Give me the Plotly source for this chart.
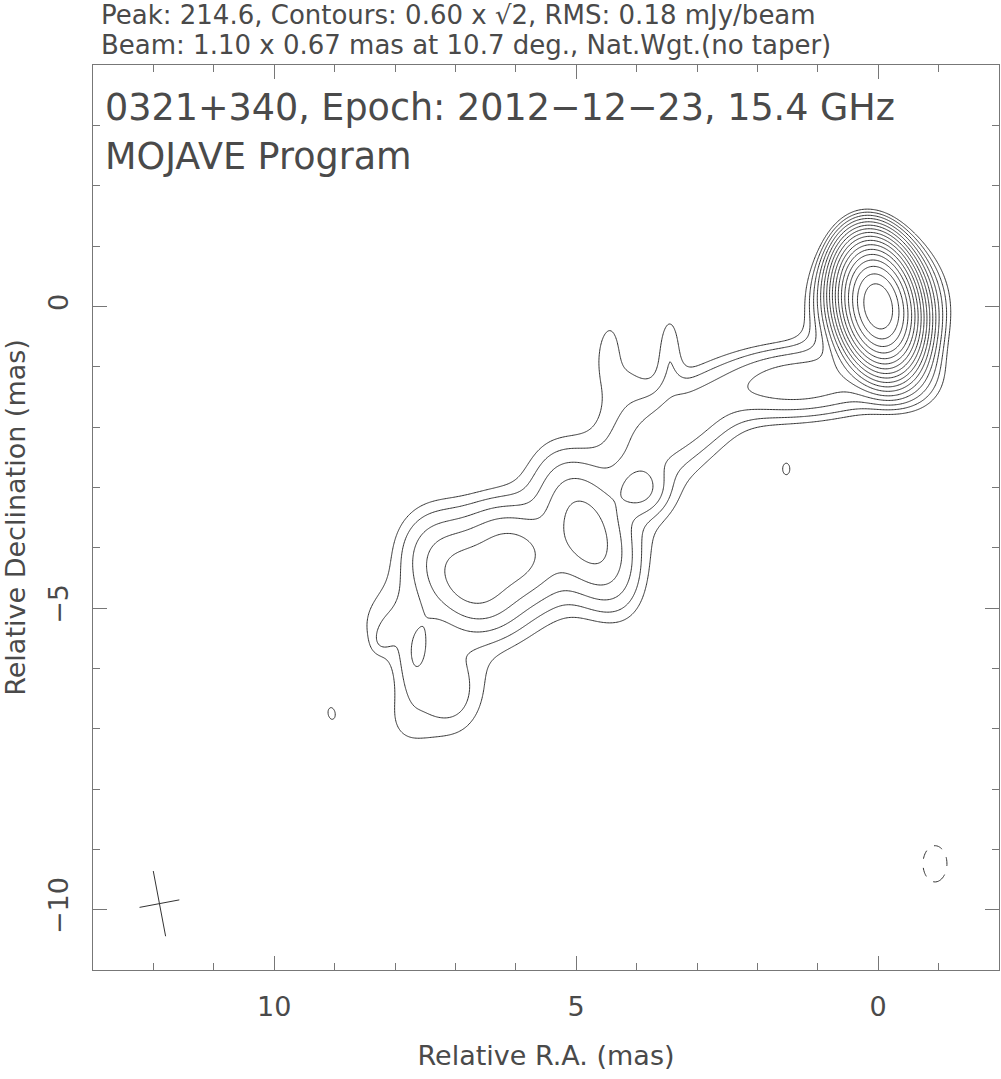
import numpy as np
import plotly.graph_objects as go

# ---------------- data: source model (Gaussian components, mJy/beam) ----------------
COMP_RA   = [0.00, 0.00, -0.45, 0.70, 1.45, 5.30, 3.15, 3.90, 4.30, 3.92, 4.78, 6.05, 6.75, 7.40, 8.10, 7.02, 7.80, 7.64, 8.15, 3.45, 4.47, 1.52, 9.05, -0.94]
COMP_DEC  = [0.00, 0.00, -1.00, -1.40, -1.18, -3.86, -1.85, -2.40, -1.20, -3.04, -3.80, -4.05, -4.60, -3.95, -5.25, -6.50, -6.95, -5.80, -5.45, -0.60, -0.60, -2.70, -6.75, -9.24]
COMP_PEAK = [205.0, 7.0, 0.9, 0.8, 1.5, 0.9, 1.0, 0.3, 0.45, 1.1, 2.0, 1.8, 1.9, 0.8, 0.5, 0.72, 0.42, 0.56, 0.38, 0.62, 0.45, 0.62, 0.65, -0.75]
COMP_MAJ  = [1.10, 1.35, 1.2, 2.4, 1.9, 5.5, 1.6, 1.2, 1.4, 0.65, 2.0, 1.3, 1.3, 1.4, 1.2, 1.4, 1.1, 1.1, 0.4, 1.2, 0.9, 0.35, 0.3, 1.06]
COMP_MIN  = [0.67, 1.25, 0.9, 0.9, 0.9, 2.3, 1.0, 1.0, 1.0, 0.65, 0.95, 1.0, 1.0, 1.2, 1.1, 1.0, 0.9, 0.45, 0.25, 0.38, 0.35, 0.22, 0.18, 0.7]
COMP_PA   = [10.7, 10.7, 30, 95, 95, 128, 120, 128, 0, 0, 23, 43, 43, 0, 0, 0, 0, 170, 150, 0, 355, 0, 10, 0]

CONTOUR_BASE = 0.60          # mJy/beam, lowest contour
CONTOUR_FACTOR = np.sqrt(2)  # contour step
N_LEVELS = 17

BEAM_MAJ, BEAM_MIN, BEAM_PA = 1.10, 0.67, 10.7
BEAM_RA, BEAM_DEC = 11.9, -9.9

X_RANGE = [13.0, -2.0]
Y_RANGE = [-11.0, 4.0]
X_TICKS = [10, 5, 0]
Y_TICKS = [-10, -5, 0]
Y_TICKTEXT = ["\u221210", "\u22125", "0"]

TITLE1 = "Peak: 214.6, Contours: 0.60 x \u221a2, RMS: 0.18 mJy/beam"
TITLE2 = "Beam: 1.10 x 0.67 mas at 10.7 deg., Nat.Wgt.(no taper)"
LABEL1 = "0321+340, Epoch: 2012\u221212\u221223, 15.4 GHz"
LABEL2 = "MOJAVE Program"

# ---------------- image ----------------
step = 0.025
xs = np.arange(-2.0, 13.0 + step / 2, step)
ys = np.arange(-11.0, 4.0 + step / 2, step)
X, Y = np.meshgrid(xs, ys)
I = np.zeros_like(X)
k = 4 * np.log(2)
for ra, de, p, fa, fb, pa in zip(COMP_RA, COMP_DEC, COMP_PEAK, COMP_MAJ, COMP_MIN, COMP_PA):
    t = np.deg2rad(pa)
    dx, dy = X - ra, Y - de
    a = dx * np.sin(t) + dy * np.cos(t)
    b = dx * np.cos(t) - dy * np.sin(t)
    I += p * np.exp(-k * (a ** 2 / fa ** 2 + b ** 2 / fb ** 2))

lg = np.log(CONTOUR_FACTOR)
zpos = np.clip(np.log(np.maximum(I, 1e-6) / CONTOUR_BASE) / lg, -6, None)
zneg = np.clip(np.log(np.maximum(-I, 1e-6) / CONTOUR_BASE) / lg, -6, None)

LINE = "#333333"
fig = go.Figure()
fig.add_trace(go.Contour(
    x=xs, y=ys, z=zpos, showscale=False, hoverinfo="skip",
    contours=dict(start=0, end=N_LEVELS - 1, size=1, coloring="lines"),
    colorscale=[[0, LINE], [1, LINE]], line=dict(width=1, smoothing=0.8)))
fig.add_trace(go.Contour(
    x=xs, y=ys, z=zneg, showscale=False, hoverinfo="skip",
    contours=dict(start=0, end=0.5, size=1, coloring="lines"),
    colorscale=[[0, LINE], [1, LINE]], line=dict(width=1, dash="dash", smoothing=0.8)))

# beam cross
pa = np.deg2rad(BEAM_PA)
ua = np.array([np.sin(pa), np.cos(pa)]) * BEAM_MAJ / 2
ub = np.array([np.cos(pa), -np.sin(pa)]) * BEAM_MIN / 2
bx = [BEAM_RA + ua[0], BEAM_RA - ua[0], None, BEAM_RA + ub[0], BEAM_RA - ub[0]]
by = [BEAM_DEC + ua[1], BEAM_DEC - ua[1], None, BEAM_DEC + ub[1], BEAM_DEC - ub[1]]
fig.add_trace(go.Scatter(x=bx, y=by, mode="lines", line=dict(color=LINE, width=1),
                         hoverinfo="skip", showlegend=False))

FONT = "DejaVu Sans"
TXT = "#4a4a4a"
W, H = 1001, 1079
L, R, T, B = 93, 2, 65, 109
pw, ph = W - L - R, H - T - B


def px(x):
    return (x - L) / pw


def py(y):
    return (H - B - y) / ph


ann = [
    dict(text=TITLE1, x=px(99), y=py(15), size=26),
    dict(text=TITLE2, x=px(99), y=py(45.5), size=26),
    dict(text=LABEL1, x=px(103), y=py(108), size=36.5),
    dict(text=LABEL2, x=px(103), y=py(156), size=36.5),
]
annotations = [dict(text=a["text"], x=a["x"], y=a["y"], xref="paper", yref="paper",
                    xanchor="left", yanchor="middle", showarrow=False,
                    font=dict(family=FONT, size=a["size"], color=TXT)) for a in ann]

axis_common = dict(showline=True, linecolor="#777777", linewidth=1, mirror="allticks",
                   ticks="inside", ticklen=14, tickcolor="#777777", tickwidth=1,
                   showgrid=False, zeroline=False,
                   tickfont=dict(family=FONT, size=27, color=TXT),
                   minor=dict(ticks="inside", ticklen=7, dtick=1, tickcolor="#777777", showgrid=False))

fig.update_layout(
    width=W, height=H, margin=dict(l=L, r=R, t=T, b=B, autoexpand=False),
    paper_bgcolor="white", plot_bgcolor="white", showlegend=False,
    annotations=annotations,
    xaxis=dict(range=X_RANGE, tickvals=X_TICKS, ticklabelstandoff=13,
               title=dict(text="Relative R.A. (mas)", standoff=24,
                          font=dict(family=FONT, size=27, color=TXT)),
               **axis_common),
    yaxis=dict(range=Y_RANGE, tickvals=Y_TICKS, ticktext=Y_TICKTEXT, tickangle=-90,
               ticklabelstandoff=13,
               title=dict(text="Relative Declination (mas)", standoff=18,
                          font=dict(family=FONT, size=27, color=TXT)),
               **axis_common),
)
fig.write_html("out.html", config={"displayModeBar": False},
               post_script="document.body.style.margin='0';")
